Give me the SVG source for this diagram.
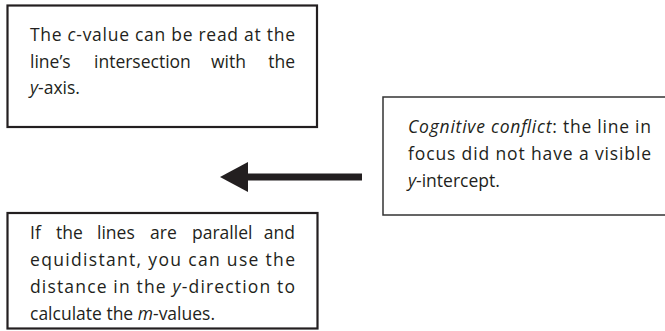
<svg xmlns="http://www.w3.org/2000/svg" width="665" height="331" viewBox="0 0 665 331">
<style>
.box{fill:#fff;stroke:#231f20;stroke-width:2.2}
.box3{fill:#fff;stroke:#333;stroke-width:1.5}
text{font-family:"Open Sans","Noto Sans","Liberation Sans",sans-serif;font-size:17.5px;fill:#231f20}
.i{font-style:italic}
.e{text-anchor:end}
</style>
<rect width="665" height="331" fill="#fff"/>
<g id="node-c-value">
<rect class="box" x="7.5" y="5.5" width="309.5" height="121.5"/>
<text x="30" y="41" textLength="265" lengthAdjust="spacing">The <tspan class="i">c</tspan>-value can be read at the</text>
<text y="68"><tspan x="30">line’s</tspan><tspan x="94">intersection</tspan><tspan x="211">with</tspan></text>
<text class="e" x="295" y="68">the</text>
<text x="30" y="94"><tspan class="i">y</tspan>-axis.</text>
</g>
<g id="node-parallel">
<rect class="box" x="7.5" y="213" width="310" height="115.5"/>
<text y="239"><tspan x="30">If</tspan><tspan x="56">the</tspan><tspan x="97">lines</tspan><tspan x="150">are</tspan><tspan x="192">parallel</tspan></text>
<text class="e" x="295" y="239">and</text>
<text x="30" y="266" textLength="265" lengthAdjust="spacing">equidistant, you can use the</text>
<text x="30" y="293" textLength="265" lengthAdjust="spacing">distance in the <tspan class="i">y</tspan>-direction to</text>
<text x="30" y="320">calculate the <tspan class="i">m</tspan>-values.</text>
</g>
<g id="node-conflict">
<rect class="box3" x="383" y="97" width="290" height="118"/>
<text x="408" y="133" textLength="243" lengthAdjust="spacing"><tspan class="i">Cognitive conflict</tspan>: the line in</text>
<text x="408" y="160" textLength="243" lengthAdjust="spacing">focus did not have a visible</text>
<text x="408" y="187"><tspan class="i">y</tspan>-intercept.</text>
</g>
<g id="connectors">
<rect x="246" y="173.5" width="116" height="7" fill="#231f20"/>
<polygon points="220,177 248,162 248,192" fill="#231f20"/>
</g>
</svg>
